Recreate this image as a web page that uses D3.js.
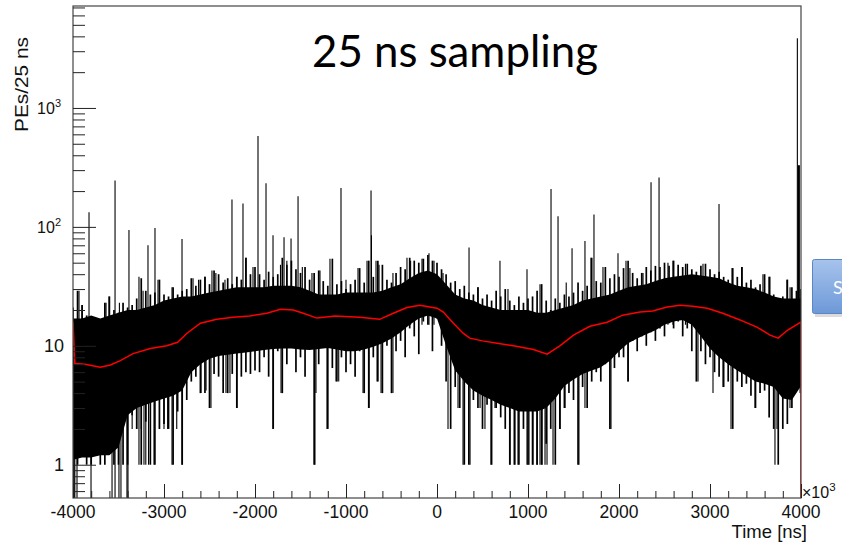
<!DOCTYPE html>
<html>
<head>
<meta charset="utf-8">
<script src="https://cdn.jsdelivr.net/npm/d3@7"></script>
<style>
  body { margin: 0; background: #fff; }
  svg { display: block; }
</style>
</head>
<body>
<svg id="chart" width="842" height="544"></svg>
<script>
// ---- data (time in ns / 1000, PEs per 25 ns) ----

// dense core of the noise band, every 100 on the x axis
var coreX = d3.range(-4000, 4001, 100);
var coreHi = [17, 17, 18, 17, 18, 19, 20, 20, 21, 22, 24, 25, 26, 26, 27, 28, 29, 30, 31, 31,
  31, 31, 32, 32, 32, 31, 29, 27, 27, 27, 28, 28, 28, 28, 29, 31, 33, 37, 41, 43,
  40, 33, 27, 25, 24, 22, 21, 20, 20, 20, 20, 19, 19, 20, 21, 22, 24, 25, 26, 27,
  29, 31, 32, 33, 35, 37, 38, 39, 40, 39, 38, 37, 34, 32, 31, 30, 28, 26, 25, 25, 25];
var coreLo = [1.1, 1.15, 1.15, 1.2, 1.2, 1.4, 2.6, 3.0, 3.2, 3.4, 3.6, 3.8, 4.2,
  6.0, 7.0, 7.8, 8.2, 8.4, 8.6, 8.8, 9.0,
  9.2, 9.4, 9.5, 9.5, 9.3, 9.2, 9.4, 9.6, 9.3, 9.0,
  9.0, 9.3, 9.8, 10.5, 11.5, 13, 15, 17, 18, 17,
  10, 6.2, 5.0, 4.2, 3.8, 3.5, 3.2, 3.0, 2.8, 2.8,
  2.8, 3.0, 3.6, 4.6, 5.2, 5.8, 6.2, 6.6, 7.5, 9.0,
  10.5, 11.5, 12.5, 13.5, 15, 16, 16.5, 15, 12, 9.5,
  8, 7, 6.2, 5.6, 5.0, 4.8, 4.5, 3.6, 3.5, 4.6];

// highest and lowest bin seen in each slice of 50
var colX = d3.range(-4000, 4001, 50);
var colMax = [21, 29, 22, 18, 17, 16.5, 13, 23, 26, 20, 19, 23, 21, 22, 25, 37, 29, 27, 28, 36, 27,
  26, 31, 27, 29, 30, 37, 32, 36, 38, 33, 43, 40, 34, 37, 33, 38, 36, 55, 40, 46,
  40, 36, 42, 38, 40, 55, 48, 52, 44, 41, 46, 36, 41, 43, 35, 32, 54, 33, 35, 30,
  33, 36, 45, 34, 52, 38, 52, 48, 36, 34, 41, 46, 44, 55, 52, 50, 54, 58, 52, 50,
  44, 40, 34, 35, 30, 32, 28, 27, 31, 25, 27, 24, 29, 26, 30, 24, 22, 26, 23, 25,
  26, 29, 33, 24, 20, 25, 23, 27, 26, 28, 34, 29, 32, 55, 35, 34, 46, 37, 40, 38,
  45, 52, 41, 37, 41, 46, 43, 47, 46, 50, 47, 52, 48, 46, 49, 44, 42, 47, 49, 44,
  40, 42, 38, 36, 45, 38, 46, 34, 36, 31, 33, 40, 38, 27, 22, 26, 36, 31, 29, 30];
var colMin = [0.4, 1, 2.2, 1, 1, 1.6, 1, 1, 2, 1, 1, 1, 1, 2.6, 2, 1, 2.3, 1, 1, 2, 2.2,
  2, 1, 2.8, 1, 3.5, 5, 5.5, 4, 4, 3, 5.8, 5.5, 4, 4, 5.8, 3, 5.5, 6, 5.8, 6.2,
  6, 8, 5.5, 2, 9, 4, 7, 12, 6, 8, 5.5, 10, 1, 7, 11, 2, 6.5, 5, 8, 6,
  7, 5.5, 9, 4, 3, 8, 5, 4, 10, 4, 9, 11, 8, 14, 12, 8.5, 16, 15, 9, 17,
  10, 5, 2, 4.5, 3, 1, 1, 3.5, 3, 2, 3.2, 1, 3, 2.5, 2, 1, 1, 1, 2, 1,
  1, 1, 1, 1.5, 2, 1, 2, 3, 4, 3.5, 1, 4.5, 3, 5, 6, 5, 7, 2, 6.5, 8,
  8, 5, 11, 9, 12, 10, 13, 11, 14, 12, 15.5, 14, 16, 12, 14, 9, 5, 9, 7, 8,
  6, 5.5, 4.5, 5, 2, 5, 4.5, 4.8, 3.8, 3, 4, 4.2, 2.5, 2, 1, 2, 2.2, 3, 4.2, 4.5];

// single bins sticking out above the band
var upX = [-3934, -3900, -3824, -3637, -3604, -3538, -3490, -3385, -3275, -3230, -3176, -3099, -3066,
  -2912, -2802, -2681, -2620, -2549, -2473, -2430, -2330, -2253, -2200, -2132, -2099, -2022, -1967,
  -1879, -1802, -1720, -1681, -1650, -1604, -1527, -1480, -1374, -1286, -1176, -1055, -1000, -868,
  -769, -725, -720, -670, -637, -484, -330, -290, -165, -88, -33, 66, 352, 450, 692, 780, 989, 1132,
  1253, 1330, 1420, 1484, 1626, 1692, 1725, 1824, 1989, 2077, 2120, 2264, 2352, 2440, 2538, 2593,
  2730, 2923, 3099, 3242, 3352, 3582, 3659, 3846, 3880, 3960, 3972, 3982];
var upV = [29, 22, 133, 23, 26, 246, 23, 94, 38, 29, 70, 98, 36,
  31, 79, 37, 36, 38, 43, 41, 36, 170, 38, 157, 55, 46, 580,
  233, 85, 48, 82, 52, 80, 181, 46, 41, 43, 54, 212, 36, 45,
  52, 202, 85, 52, 48, 41, 55, 52, 54, 60, 52, 41, 67, 31, 52, 30, 44, 33,
  208, 123, 34, 66, 76, 55, 127, 46, 60, 52, 45, 41, 237, 260, 50, 52,
  49, 49, 156, 45, 46, 40, 38, 36, 31, 3850, 330, 330];

// single bins dropping below the band (0.4 = empty bin, drawn to the floor)
var downX = [-3995, -3988, -3980, -3956, -3802, -3571, -3538, -3495, -3473, -3407, -3396,
  -3350, -3300, -3275, -3250, -3220, -3200, -3170, -3110, -3050, -3000, -2960, -2912, -2860, -2802,
  -2593, -2538, -2484, -2319, -2275, -2198, -1802, -1714, -1341, -1330, -1209, -1110, -1080,
  -813, -747, -659, -615, -484, 121, 231, 286, 363, 473, 527, 593, 637, 802, 857, 890, 989,
  1011, 1055, 1099, 1132, 1154, 1187, 1209, 1275, 1352, 1407, 1560, 1626, 1912, 2099, 2868,
  3033, 3143, 3231, 3495, 3714, 3736, 3879, 3990];
var downV = [0.4, 0.4, 0.4, 0.4, 0.4, 0.4, 0.4, 0.4, 0.4, 0.4, 0.4,
  2, 2, 1, 2, 1, 1, 1, 1, 2, 2, 2, 1, 2, 1,
  4, 4.2, 3, 4, 4, 3, 2, 4, 1, 4, 2, 5, 5,
  4, 3, 5, 4, 4, 2, 3, 1, 1, 3, 2, 1, 3, 1, 1, 1, 1,
  1, 1, 1, 1, 1, 1, 1, 1, 2, 3, 1, 3, 2, 5, 5,
  4, 4.5, 2, 3, 1, 2, 3, 4];

// smoothed curve (red)
var fitX = [-4000, -3980, -3870, -3700, -3590, -3480, -3340, -3150, -2970, -2850, -2750, -2600,
  -2420, -2240, -2060, -1870, -1720, -1580, -1470, -1320, -1120, -850, -630, -480, -330, -190,
  0, 70, 180, 290, 360, 500, 660, 840, 1060, 1210, 1350, 1500, 1680, 1870, 2040, 2230, 2370,
  2530, 2670, 2810, 2970, 3140, 3330, 3520, 3660, 3750, 3850, 3980, 4000];
var fitV = [15.8, 7.1, 7.0, 6.6, 6.9, 7.5, 8.6, 9.5, 10, 10.7, 12.7, 15.5,
  16.7, 17.4, 17.8, 18.8, 20.3, 20, 18.8, 17.1, 17.8, 17.4, 16.7, 18.8, 21, 21.9,
  20.7, 19.2, 15.5, 12.7, 11.6, 11, 10.5, 10, 9.3, 8.5, 10, 12.3, 14.6, 15.8, 18.1, 19.2, 19.6,
  21.2, 21.9, 21.5, 20.7, 18.8, 16.5, 14.3, 12.3, 11.6, 13.5, 15.5, 15.8];

var xMajor = [-4000, -3000, -2000, -1000, 0, 1000, 2000, 3000, 4000];
var xLabels = ['-4000', '-3000', '-2000', '-1000', '0', '1000', '2000', '3000', '4000'];
var yMajor = [1, 10, 100, 1000];
var yLabels = [['1', ''], ['10', ''], ['10', '2'], ['10', '3']];

// ---- layout ----
var frame = { left: 73, right: 801, top: 6, bottom: 498 };
var axisFont = '"Liberation Sans", Arial, Helvetica, sans-serif';

var svg = d3.select('#chart');
var defs = svg.append('defs');

var x = d3.scaleLinear().domain([-4000, 4000]).range([frame.left, frame.right]);
var y = d3.scaleLog().domain([0.525, 7200]).range([frame.bottom, frame.top]).clamp(true);

defs.append('clipPath')
  .attr('id', 'plot-clip')
  .append('rect')
  .attr('x', frame.left)
  .attr('y', frame.top)
  .attr('width', frame.right - frame.left)
  .attr('height', frame.bottom - frame.top);

var plot = svg.append('g').attr('clip-path', 'url(#plot-clip)');

// dense core
plot.append('path')
  .datum(coreX.map(function (v, i) { return [v, coreLo[i], coreHi[i]]; }))
  .attr('fill', '#000')
  .attr('d', d3.area()
    .x(function (d) { return x(d[0]); })
    .y0(function (d) { return y(d[1]); })
    .y1(function (d) { return y(d[2]); }));

/**
 * Vertical black strokes between two values at each x
 *
 * @param {array} rows [x, from, to] triples in data units
 * @param {number} width Stroke width in px
 */
function drawStrokes(rows, width) {
  plot.append('g').selectAll('line')
    .data(rows)
    .join('line')
    .attr('x1', function (d) { return x(d[0]); })
    .attr('x2', function (d) { return x(d[0]); })
    .attr('y1', function (d) { return y(d[1]); })
    .attr('y2', function (d) { return y(d[2]); })
    .attr('stroke', '#000')
    .attr('stroke-width', width);
}

drawStrokes(colX.map(function (v, i) { return [v, colMin[i], colMax[i]]; }), 1.7);
drawStrokes(upX.map(function (v, i) { return [v, 15, upV[i]]; }), 1.1);
drawStrokes(downX.map(function (v, i) { return [v, 15, downV[i]]; }), 1.1);

// red curve, dropping to the floor at the last bin
var fitData = fitX.map(function (v, i) { return [x(v), y(fitV[i])]; });
fitData.push([x(4000), frame.bottom]);
plot.append('path')
  .datum(fitData)
  .attr('fill', 'none')
  .attr('stroke', '#f00')
  .attr('stroke-width', 1.5)
  .attr('d', d3.line());

// frame
svg.append('rect')
  .attr('x', frame.left)
  .attr('y', frame.top)
  .attr('width', frame.right - frame.left)
  .attr('height', frame.bottom - frame.top)
  .attr('fill', 'none')
  .attr('stroke', '#444')
  .attr('stroke-width', 1.2);

// ticks sit inside the frame
function styleAxis(g) {
  g.select('.domain').remove();
  g.selectAll('line').attr('stroke', '#222');
}
svg.append('g')
  .attr('transform', 'translate(0,' + frame.bottom + ')')
  .call(d3.axisTop(x).tickValues(d3.range(-4000, 4001, 200)).tickSize(7).tickFormat(''))
  .call(styleAxis);
svg.append('g')
  .attr('transform', 'translate(0,' + frame.bottom + ')')
  .call(d3.axisTop(x).tickValues(xMajor).tickSize(14).tickFormat(''))
  .call(styleAxis);

var yMinor = y.ticks().filter(function (v) { return yMajor.indexOf(v) < 0; });
svg.append('g')
  .attr('transform', 'translate(' + frame.left + ',0)')
  .call(d3.axisRight(y).tickValues(yMinor).tickSize(12).tickFormat(''))
  .call(styleAxis);
svg.append('g')
  .attr('transform', 'translate(' + frame.left + ',0)')
  .call(d3.axisRight(y).tickValues(yMajor).tickSize(23).tickFormat(''))
  .call(styleAxis);

// tick labels
svg.append('g').selectAll('text')
  .data(xMajor)
  .join('text')
  .attr('x', function (d) { return x(d); })
  .attr('y', 518)
  .attr('text-anchor', 'middle')
  .attr('font-family', axisFont)
  .attr('font-size', 17.5)
  .attr('fill', '#111')
  .text(function (d, i) { return xLabels[i]; });

var yText = svg.append('g').selectAll('text')
  .data(yMajor)
  .join('text')
  .attr('x', function (d, i) { return yLabels[i][1] ? 61 : 64; })
  .attr('y', function (d, i) { return y(d) + (yLabels[i][1] ? 6 : 6.5); })
  .attr('text-anchor', 'end')
  .attr('font-family', axisFont)
  .attr('font-size', function (d, i) { return yLabels[i][1] ? 16 : 18; })
  .attr('fill', '#111');
yText.append('tspan').text(function (d, i) { return yLabels[i][0]; });
yText.append('tspan')
  .attr('dy', -7)
  .attr('font-size', 11)
  .text(function (d, i) { return yLabels[i][1]; });

// exponent marker on the x axis
var expo = svg.append('text')
  .attr('x', 802)
  .attr('y', 498)
  .attr('font-family', axisFont)
  .attr('font-size', 16)
  .attr('fill', '#111');
expo.append('tspan').text('\u00d710');
expo.append('tspan').attr('dy', -7).attr('font-size', 11.5).text('3');

// axis titles
svg.append('text')
  .attr('x', 807)
  .attr('y', 538)
  .attr('text-anchor', 'end')
  .attr('font-family', axisFont)
  .attr('font-size', 18.5)
  .attr('fill', '#111')
  .text('Time [ns]');

svg.append('text')
  .attr('transform', 'translate(28,37) rotate(-90)')
  .attr('text-anchor', 'end')
  .attr('font-family', axisFont)
  .attr('font-size', 19)
  .attr('textLength', 95)
  .attr('lengthAdjust', 'spacingAndGlyphs')
  .attr('fill', '#111')
  .text('PEs/25 ns');

// slide title
svg.append('text')
  .attr('x', 312)
  .attr('y', 67)
  .attr('font-family', 'Lato, "Open Sans", sans-serif')
  .attr('font-size', 44)
  .attr('textLength', 286)
  .attr('lengthAdjust', 'spacingAndGlyphs')
  .attr('fill', '#000')
  .text('25 ns sampling');

// the slide button cut off at the right edge
var grad = defs.append('linearGradient')
  .attr('id', 'btn-grad')
  .attr('x1', 0).attr('y1', 0).attr('x2', 0).attr('y2', 1);
grad.append('stop').attr('offset', 0).attr('stop-color', '#a7c3ec');
grad.append('stop').attr('offset', 1).attr('stop-color', '#6d99d8');

svg.append('rect')
  .attr('x', 815)
  .attr('y', 262)
  .attr('width', 40)
  .attr('height', 55)
  .attr('fill', '#b9b9b9')
  .attr('opacity', 0.5);
svg.append('rect')
  .attr('x', 812.5)
  .attr('y', 259.5)
  .attr('width', 40)
  .attr('height', 54)
  .attr('rx', 2)
  .attr('fill', 'url(#btn-grad)')
  .attr('stroke', '#5b86c4')
  .attr('stroke-width', 1);
svg.append('text')
  .attr('x', 833)
  .attr('y', 294)
  .attr('font-family', 'Lato, "Open Sans", sans-serif')
  .attr('font-size', 18)
  .attr('fill', '#fff')
  .text('S');
</script>
</body>
</html>
